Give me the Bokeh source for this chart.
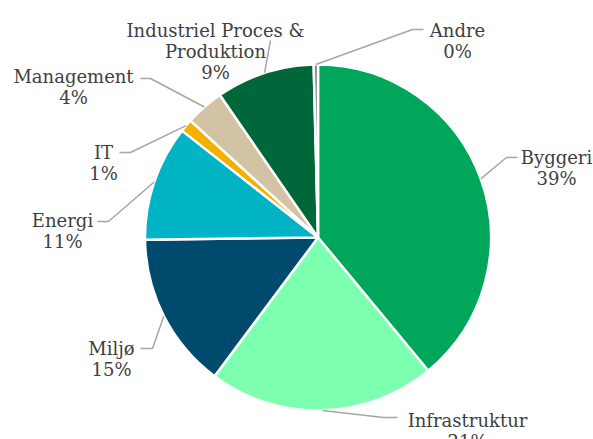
import math
from bokeh.plotting import figure
from bokeh.models import Range1d, ColumnDataSource
from bokeh.embed import file_html
from bokeh.resources import INLINE
from bokeh.core.properties import value

# ---- data ----
categories = ["Byggeri", "Infrastruktur", "Miljø", "Energi", "IT", "Management",
              "Industriel Proces &\nProduktion", "Andre"]
shares = [39.0, 21.2, 14.6, 10.8, 1.2, 3.6, 9.2, 0.4]
colors = ["#00A65A", "#7DFFB0", "#004A6E", "#00B4C6", "#F5AF00", "#D2C3A5", "#00673A", "#7F7F7F"]

# ---- layout (picture pixel coordinates, y downwards) ----
W, H = 593, 439
CX, CY, R = 317.5, 237.0, 173.0
# label centre x, first baseline y, elbow point, end point near the text
label_layout = {
    "Byggeri": (556, 157, (506, 157), (517, 157)),
    "Infrastruktur": (467, 420, (383, 417), (397, 417)),
    "Miljø": (111, 348, (152, 348), (140, 348)),
    "Energi": (62, 220, (108, 221), (97, 221)),
    "IT": (103, 152, (130, 152), (119, 152)),
    "Management": (73, 76, (150, 78), (140, 78)),
    "Industriel Proces &\nProduktion": (215, 30, (270, 40), (270, 40)),
    "Andre": (457, 30, (412, 29), (423, 29)),
}
LINE_H = 21

def fy(y):
    return H - y

p = figure(width=W, height=H, output_backend="svg", toolbar_location=None,
           x_range=Range1d(0, W), y_range=Range1d(0, H),
           x_axis_type=None, y_axis_type=None, min_border=0)
p.outline_line_color = None
p.grid.visible = False
p.background_fill_color = "white"

total = sum(shares)
starts, ends, mids = [], [], []
cum = 0.0
for s in shares:
    a0 = cum / total
    cum += s
    a1 = cum / total
    starts.append(math.pi / 2 - 2 * math.pi * a0)
    ends.append(math.pi / 2 - 2 * math.pi * a1)
    mids.append((a0 + a1) / 2 * 2 * math.pi)

src = ColumnDataSource(dict(start=starts, end=ends, color=colors))
p.wedge(x=CX, y=fy(CY), radius=R, start_angle="start", end_angle="end",
        direction="clock", fill_color="color", line_color="white", line_width=2.5,
        source=src)

xs, ys = [], []
tx, ty, tt = [], [], []
for cat, s, m in zip(categories, shares, mids):
    lx, lb, elbow, end = label_layout[cat]
    px = CX + R * math.sin(m)
    py = CY - R * math.cos(m)
    xs.append([px, elbow[0], end[0]])
    ys.append([fy(py), fy(elbow[1]), fy(end[1])])
    lines = cat.split("\n") + ["%d%%" % round(s)]
    for i, ln in enumerate(lines):
        tx.append(lx)
        ty.append(fy(lb + i * LINE_H))
        tt.append(ln)

p.multi_line(xs=xs, ys=ys, line_color="#A6A6A6", line_width=1.5)
p.text(x=tx, y=ty, text=tt, text_align="center", text_baseline="alphabetic",
       text_font=value("DejaVu Serif"), text_font_size="18px", text_color="#404040")

open("out.html", "w").write(file_html(p, INLINE))
